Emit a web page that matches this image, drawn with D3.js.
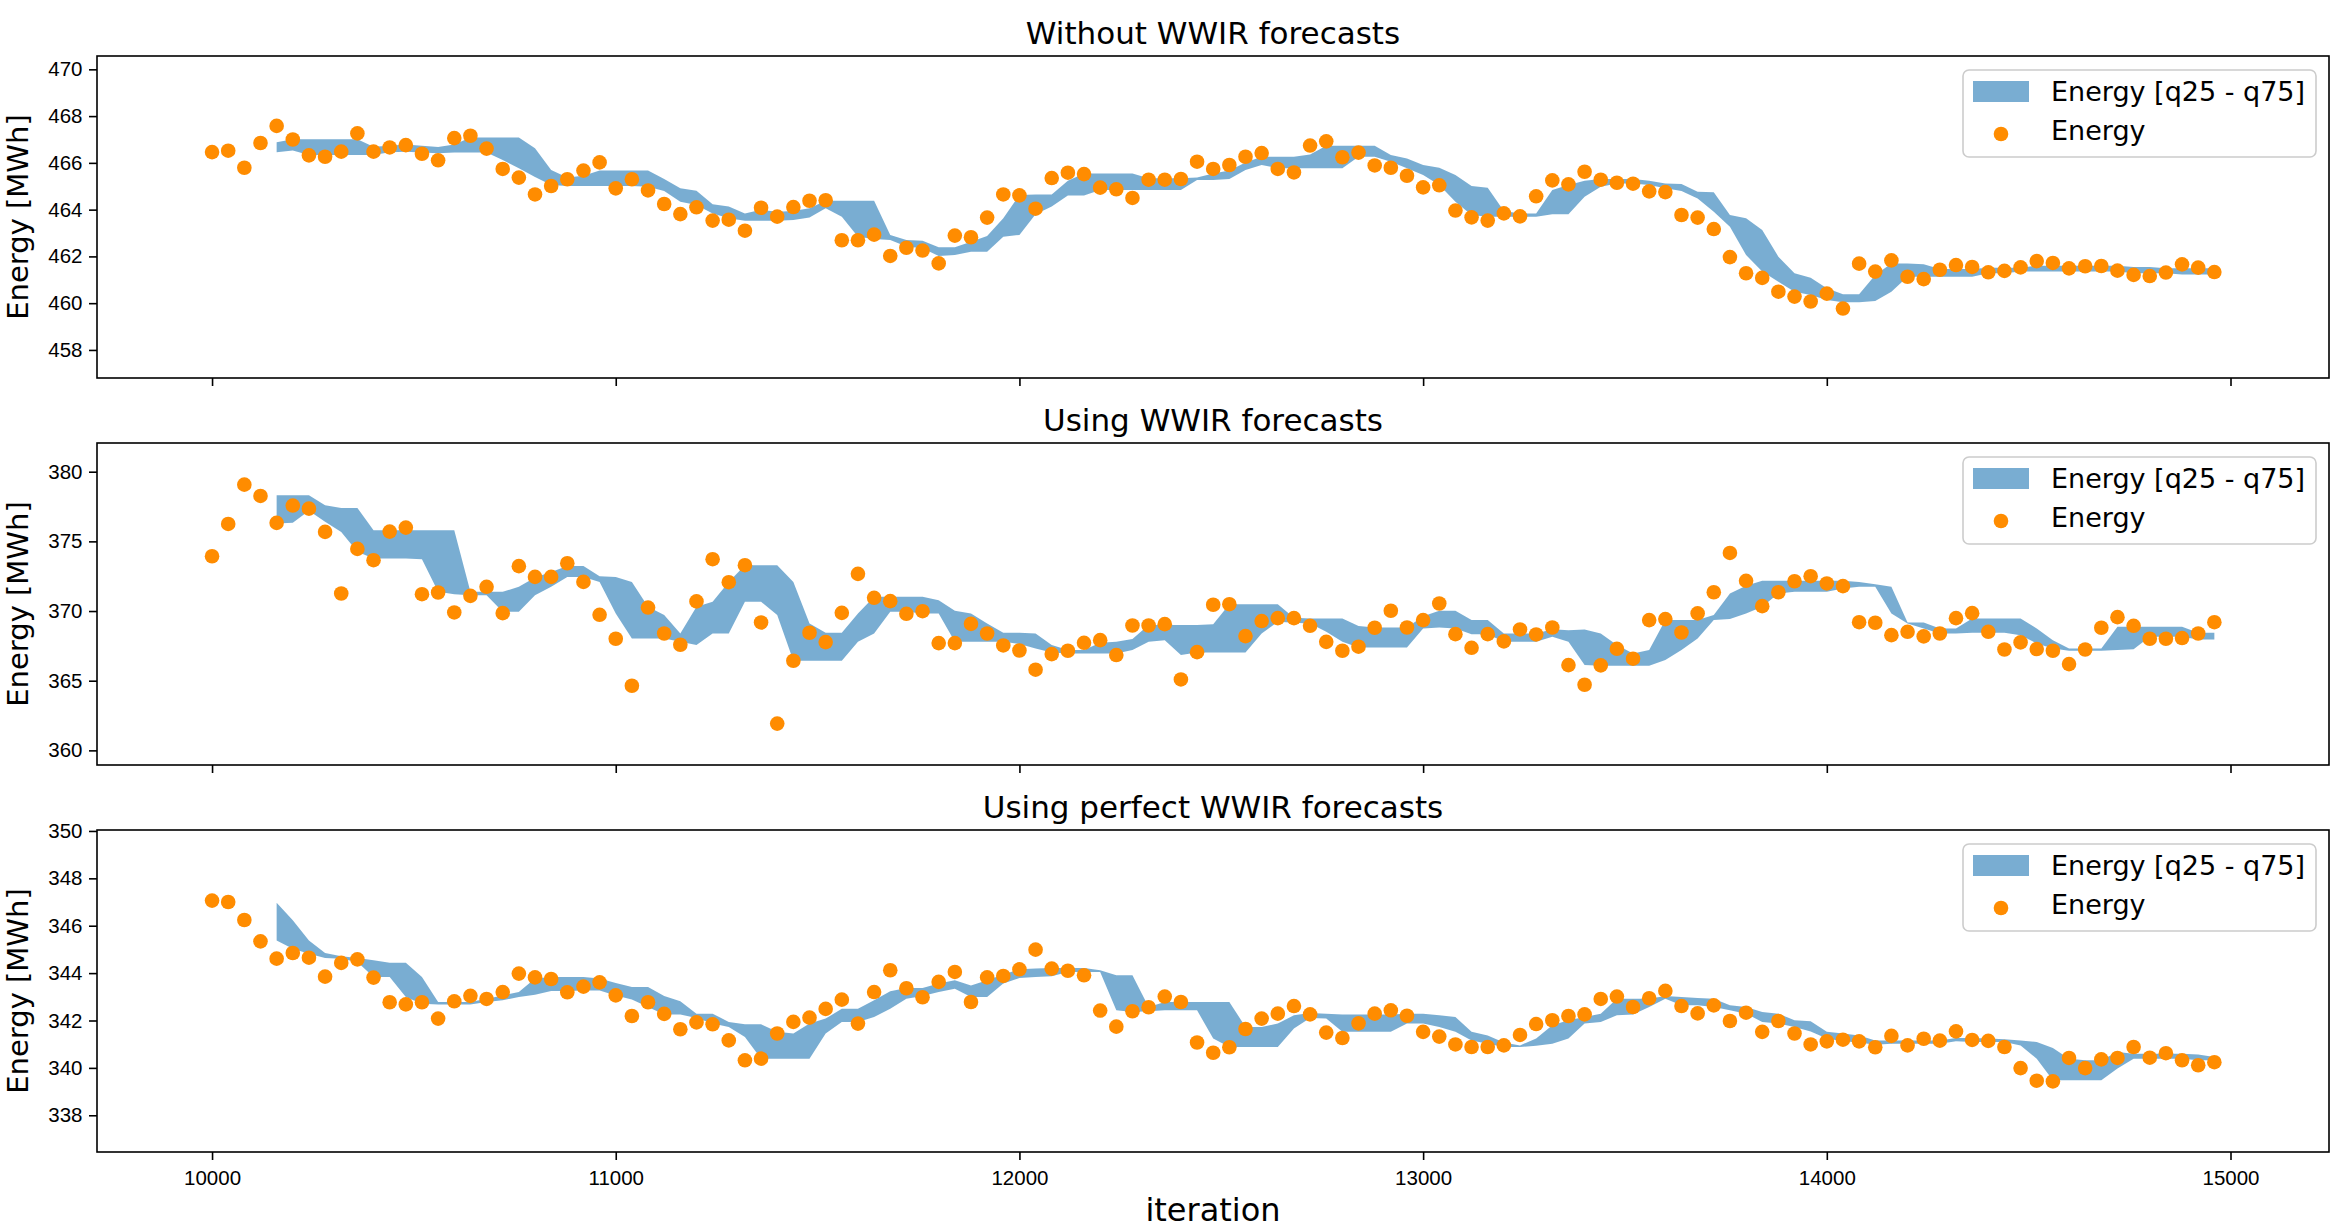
<!DOCTYPE html>
<html>
<head>
<meta charset="utf-8">
<script src="https://cdn.jsdelivr.net/npm/d3@7"></script>
<style>
    body { margin: 0; background: #fff; }
    svg { display: block; font-family: "DejaVu Sans", sans-serif; }
</style>
</head>
<body>
<svg class="chart"></svg>
<script>
// iterations: one sample every 40 iterations, band starts at the 5th sample
var iterStart = 10000, iterStep = 40, nSamples = 125, bandOffset = 4;

var titles = ["Without WWIR forecasts", "Using WWIR forecasts", "Using perfect WWIR forecasts"];

var yTicks1 = [458, 460, 462, 464, 466, 468, 470];
var yTicks2 = [360, 365, 370, 375, 380];
var yTicks3 = [338, 340, 342, 344, 346, 348, 350];
var xTicks = [10000, 11000, 12000, 13000, 14000, 15000];

// ---- Without WWIR forecasts
var energy1 = [
    466.46, 466.52, 465.79, 466.85, 467.58, 467.00, 466.32, 466.26, 466.48, 467.26,
    466.48, 466.66, 466.76, 466.39, 466.11, 467.06, 467.16, 466.61, 465.74, 465.37,
    464.65, 465.01, 465.30, 465.67, 466.02, 464.91, 465.30, 464.82, 464.24, 463.81,
    464.10, 463.53, 463.57, 463.10, 464.08, 463.70, 464.11, 464.38, 464.40, 462.69,
    462.69, 462.93, 462.02, 462.37, 462.25, 461.70, 462.89, 462.82, 463.66, 464.65,
    464.61, 464.04, 465.35, 465.58, 465.52, 464.94, 464.87, 464.50, 465.28, 465.28,
    465.31, 466.05, 465.74, 465.91, 466.26, 466.42, 465.74, 465.59, 466.74, 466.92,
    466.24, 466.44, 465.89, 465.79, 465.45, 464.95, 465.04, 463.96, 463.67, 463.53,
    463.84, 463.71, 464.57, 465.25, 465.08, 465.62, 465.28, 465.15, 465.11, 464.78,
    464.75, 463.77, 463.66, 463.17, 461.97, 461.28, 461.08, 460.49, 460.28, 460.07,
    460.41, 459.77, 461.69, 461.35, 461.83, 461.13, 461.03, 461.43, 461.63, 461.55,
    461.32, 461.38, 461.53, 461.80, 461.72, 461.49, 461.58, 461.59, 461.39, 461.21,
    461.16, 461.31, 461.66, 461.52, 461.33
];
var q75_1 = [
    466.88, 467.01, 467.01, 467.01, 467.01, 467.01, 466.69, 466.73, 466.79, 466.73,
    466.68, 466.79, 467.08, 467.08, 467.08, 467.08, 466.62, 465.70, 465.37, 465.45,
    465.67, 465.67, 465.67, 465.67, 465.31, 464.91, 464.81, 464.23, 464.13, 463.84,
    463.99, 463.91, 463.94, 464.06, 464.38, 464.38, 464.38, 464.38, 462.92, 462.70,
    462.67, 462.39, 462.39, 462.63, 462.87, 463.63, 464.63, 464.65, 464.65, 465.24,
    465.55, 465.55, 465.55, 465.55, 465.34, 465.34, 465.34, 465.37, 465.55, 465.67,
    466.02, 466.26, 466.26, 466.26, 466.36, 466.73, 466.73, 466.73, 466.73, 466.34,
    466.19, 465.91, 465.79, 465.48, 465.01, 464.94, 463.94, 463.84, 463.84, 464.84,
    465.05, 465.24, 465.31, 465.31, 465.31, 465.24, 465.12, 465.10, 464.77, 464.74,
    463.77, 463.63, 463.13, 461.99, 461.28, 461.09, 460.64, 460.38, 460.38, 461.21,
    461.70, 461.70, 461.66, 461.46, 461.46, 461.46, 461.52, 461.52, 461.52, 461.60,
    461.60, 461.60, 461.60, 461.60, 461.60, 461.55, 461.55, 461.49, 461.49, 461.49, 461.49
];
var q25_1 = [
    466.45, 466.53, 466.34, 466.34, 466.34, 466.34, 466.34, 466.45, 466.48, 466.44,
    466.41, 466.44, 466.44, 466.44, 466.12, 465.77, 465.40, 465.05, 465.01, 465.01,
    465.01, 465.01, 465.01, 464.98, 464.80, 464.34, 464.20, 463.84, 463.63, 463.53,
    463.53, 463.53, 463.56, 463.66, 464.06, 463.70, 462.84, 462.74, 462.70, 462.42,
    462.35, 462.02, 462.06, 462.20, 462.20, 462.84, 462.92, 463.80, 464.13, 464.60,
    464.60, 464.84, 464.84, 464.84, 464.84, 464.84, 464.84, 465.27, 465.27, 465.31,
    465.70, 465.91, 465.77, 465.77, 465.77, 465.77, 465.77, 466.26, 466.26, 466.05,
    465.77, 465.48, 465.05, 464.34, 463.77, 463.70, 463.70, 463.70, 463.70, 463.80,
    463.80, 464.55, 464.98, 465.12, 465.12, 465.05, 464.91, 464.80, 464.48, 463.91,
    463.27, 462.06, 461.35, 460.92, 460.49, 460.35, 460.14, 460.04, 460.04, 460.09,
    460.49, 461.13, 461.13, 461.13, 461.13, 461.13, 461.28, 461.28, 461.35, 461.35,
    461.35, 461.35, 461.35, 461.35, 461.35, 461.28, 461.28, 461.28, 461.23, 461.23, 461.23
];

// ---- Using WWIR forecasts
var energy2 = [
    373.93, 376.25, 379.07, 378.26, 376.33, 377.57, 377.35, 375.68, 371.26, 374.46,
    373.65, 375.70, 375.99, 371.21, 371.33, 369.90, 371.09, 371.74, 369.85, 373.22,
    372.45, 372.45, 373.43, 372.09, 369.73, 368.01, 364.64, 370.25, 368.39, 367.58,
    370.69, 373.72, 372.07, 373.29, 369.18, 361.92, 366.43, 368.44, 367.77, 369.87,
    372.67, 370.95, 370.71, 369.80, 369.99, 367.70, 367.70, 369.08, 368.39, 367.53,
    367.17, 365.79, 366.91, 367.15, 367.72, 367.91, 366.84, 368.96, 368.96, 369.06,
    365.09, 367.05, 370.45, 370.49, 368.20, 369.28, 369.49, 369.49, 368.94, 367.79,
    367.15, 367.44, 368.80, 370.02, 368.82, 369.35, 370.54, 368.34, 367.36, 368.34,
    367.82, 368.68, 368.32, 368.82, 366.12, 364.71, 366.10, 367.29, 366.58, 369.35,
    369.42, 368.46, 369.83, 371.35, 374.17, 372.17, 370.35, 371.35, 372.14, 372.50,
    371.98, 371.79, 369.20, 369.16, 368.27, 368.51, 368.18, 368.39, 369.49, 369.85,
    368.51, 367.24, 367.75, 367.27, 367.15, 366.19, 367.24, 368.80, 369.56, 368.94,
    368.01, 368.01, 368.06, 368.39, 369.20
];
var q75_2 = [
    378.31, 378.31, 378.31, 377.59, 377.40, 377.40, 375.80, 375.80, 375.80, 375.80,
    375.80, 375.80, 371.38, 371.38, 371.38, 371.74, 372.41, 372.81, 373.24, 373.24,
    372.50, 372.45, 372.09, 370.30, 369.71, 368.39, 370.30, 370.66, 372.09, 373.29,
    373.29, 373.29, 372.09, 369.11, 368.44, 368.44, 369.83, 371.02, 371.02, 371.02,
    371.02, 370.78, 370.02, 369.83, 369.11, 368.44, 368.44, 368.39, 367.56, 367.20,
    367.20, 367.72, 367.79, 367.99, 368.99, 368.99, 368.99, 368.99, 369.06, 370.49,
    370.49, 370.49, 370.49, 369.52, 369.47, 369.47, 369.47, 368.92, 368.82, 368.82,
    368.82, 369.63, 370.02, 370.02, 369.35, 369.35, 368.39, 368.39, 368.39, 368.70,
    368.63, 368.68, 368.39, 367.56, 366.96, 367.20, 369.35, 369.35, 369.35, 369.71,
    371.26, 371.81, 372.17, 372.17, 372.17, 372.17, 372.17, 372.17, 372.09, 371.93,
    371.74, 369.18, 369.18, 368.75, 368.75, 369.47, 369.47, 369.47, 369.47, 368.75,
    367.91, 367.32, 367.32, 367.32, 368.87, 368.87, 368.87, 368.87, 368.87, 368.44, 368.44
];
var q25_2 = [
    376.28, 376.33, 377.19, 376.40, 375.68, 374.25, 373.77, 373.77, 373.77, 373.72,
    371.38, 371.21, 371.14, 371.14, 369.94, 369.94, 371.14, 371.74, 372.45, 372.45,
    372.09, 369.83, 368.03, 368.03, 368.03, 367.79, 367.56, 368.39, 368.39, 370.66,
    370.66, 369.71, 366.43, 366.43, 366.43, 366.43, 367.79, 368.39, 369.94, 369.94,
    369.83, 369.83, 367.79, 367.79, 367.79, 367.79, 367.63, 367.32, 367.03, 366.96,
    366.96, 366.96, 366.96, 367.20, 367.79, 367.91, 366.84, 367.03, 367.03, 367.03,
    367.03, 368.39, 369.23, 369.16, 369.11, 368.51, 367.79, 367.39, 367.39, 367.39,
    367.39, 368.75, 368.82, 368.75, 368.34, 368.34, 367.79, 367.79, 367.79, 368.15,
    367.79, 366.12, 366.07, 366.07, 366.07, 366.07, 366.48, 367.20, 368.03, 369.35,
    369.42, 369.83, 370.30, 371.26, 371.38, 371.38, 371.38, 371.62, 371.74, 371.74,
    369.83, 369.11, 368.75, 368.39, 368.39, 368.44, 368.44, 368.44, 368.27, 367.67,
    367.32, 367.15, 367.15, 367.15, 367.20, 367.25, 368.15, 368.15, 368.15, 367.96, 367.96
];

// ---- Using perfect WWIR forecasts
var energy3 = [
    347.06, 347.00, 346.24, 345.34, 344.61, 344.85, 344.65, 343.85, 344.43, 344.58,
    343.81, 342.77, 342.68, 342.77, 342.08, 342.81, 343.04, 342.91, 343.20, 343.98,
    343.82, 343.75, 343.19, 343.43, 343.61, 343.06, 342.19, 342.77, 342.28, 341.63,
    341.92, 341.84, 341.16, 340.32, 340.39, 341.45, 341.94, 342.12, 342.49, 342.88,
    341.87, 343.20, 344.12, 343.36, 342.98, 343.63, 344.05, 342.78, 343.82, 343.88,
    344.16, 344.99, 344.19, 344.10, 343.91, 342.42, 341.74, 342.39, 342.56, 343.01,
    342.78, 341.07, 340.64, 340.87, 341.64, 342.08, 342.29, 342.61, 342.26, 341.49,
    341.26, 341.88, 342.29, 342.43, 342.20, 341.52, 341.32, 340.99, 340.88, 340.88,
    340.95, 341.39, 341.85, 342.01, 342.19, 342.26, 342.91, 343.01, 342.57, 342.94,
    343.25, 342.61, 342.30, 342.64, 341.98, 342.33, 341.52, 341.98, 341.45, 340.99,
    341.12, 341.19, 341.12, 340.87, 341.35, 340.95, 341.23, 341.15, 341.54, 341.18,
    341.14, 340.88, 339.99, 339.46, 339.43, 340.42, 339.99, 340.36, 340.42, 340.88,
    340.43, 340.62, 340.32, 340.11, 340.24
];
var q75_3 = [
    346.97, 346.23, 345.38, 344.85, 344.71, 344.64, 344.54, 344.44, 344.44, 343.84,
    342.78, 342.78, 342.78, 342.92, 343.06, 343.20, 343.77, 343.84, 343.84, 343.84,
    343.77, 343.58, 343.41, 343.41, 343.03, 342.81, 342.29, 342.29, 341.94, 341.84,
    341.84, 341.52, 341.45, 341.87, 342.08, 342.50, 342.50, 342.85, 343.23, 343.37,
    343.37, 343.56, 343.70, 343.48, 343.70, 343.94, 344.16, 344.19, 344.22, 344.22,
    344.22, 344.12, 343.91, 343.91, 342.57, 342.78, 342.78, 342.78, 342.78, 342.78,
    341.73, 341.73, 341.87, 342.22, 342.32, 342.29, 342.25, 342.25, 342.25, 342.25,
    342.29, 342.29, 342.22, 342.15, 341.52, 341.37, 341.07, 340.95, 341.24, 341.80,
    342.01, 342.15, 342.29, 342.92, 342.92, 342.92, 343.03, 342.99, 342.95, 342.92,
    342.64, 342.57, 342.36, 342.29, 342.01, 341.97, 341.52, 341.45, 341.37, 341.16,
    341.16, 341.16, 341.16, 341.16, 341.26, 341.26, 341.24, 341.21, 341.16, 341.09,
    340.84, 340.39, 340.32, 340.32, 340.67, 340.60, 340.60, 340.60, 340.60, 340.56, 340.46
];
var q25_3 = [
    345.38, 345.03, 344.82, 344.64, 344.61, 344.47, 343.84, 343.84, 342.99, 342.71,
    342.67, 342.67, 342.67, 342.78, 342.85, 342.99, 343.09, 343.25, 343.25, 343.27,
    343.27, 343.06, 342.89, 342.57, 342.25, 342.25, 342.11, 341.87, 341.73, 341.30,
    340.39, 340.39, 340.39, 340.39, 341.45, 341.94, 341.94, 342.15, 342.50, 342.92,
    343.03, 343.20, 343.34, 342.99, 342.99, 343.56, 343.79, 343.84, 343.87, 344.05,
    344.05, 344.05, 342.43, 342.36, 342.39, 342.43, 342.43, 342.43, 341.24, 340.88,
    340.88, 340.88, 340.88, 341.66, 342.11, 342.08, 341.52, 341.52, 341.52, 341.52,
    341.87, 341.87, 341.73, 341.52, 341.16, 341.02, 340.88, 340.88, 340.93, 341.02,
    341.24, 341.87, 341.94, 342.22, 342.25, 342.57, 342.92, 342.64, 342.64, 342.57,
    342.43, 342.29, 341.94, 341.87, 341.73, 341.54, 341.24, 341.12, 341.07, 340.98,
    341.02, 341.02, 341.02, 341.02, 341.12, 341.09, 341.09, 341.09, 340.95, 340.39,
    339.48, 339.48, 339.48, 339.48, 339.97, 340.39, 340.39, 340.39, 340.39, 340.32, 340.32
];

function show() {

    'use strict';

    var W = 2339, H = 1228;
    var axLeft = 97, axRight = 2329, panelH = 322;
    var panelTops = [56, 443, 830];

    var bandColor = "#1f77b4", dotColor = "#ff8c00";

    var iterations = d3.range(nSamples).map(function(i) { return iterStart + i * iterStep; });

    var panels = [
        {title: titles[0], energy: energy1, lo: q25_1, hi: q75_1, ticks: yTicks1, domain: [456.8, 470.57]},
        {title: titles[1], energy: energy2, lo: q25_2, hi: q75_2, ticks: yTicks2, domain: [358.95, 382.06]},
        {title: titles[2], energy: energy3, lo: q25_3, hi: q75_3, ticks: yTicks3, domain: [336.45, 350.04]}
    ];

    var svg = d3.select(".chart")
        .attr("width", W)
        .attr("height", H);

    svg.append("rect").attr("width", W).attr("height", H).attr("fill", "#fff");

    var x = d3.scaleLinear().domain([9715, 15244]).range([axLeft, axRight]);

    panels.forEach(function(p, k) {

        var top = panelTops[k];
        var y = d3.scaleLinear().domain(p.domain).range([top + panelH, top]);
        var g = svg.append("g");

        // quantile band
        var band = p.lo.map(function(lo, i) {
            return {it: iterations[i + bandOffset], lo: lo, hi: p.hi[i]};
        });
        var area = d3.area()
            .x(function(d) { return x(d.it); })
            .y0(function(d) { return y(d.lo); })
            .y1(function(d) { return y(d.hi); });

        g.append("path")
            .datum(band)
            .attr("d", area)
            .attr("fill", bandColor)
            .attr("fill-opacity", 0.6);

        // energy points
        g.selectAll(".dot")
            .data(p.energy)
            .enter().append("circle")
            .attr("class", "dot")
            .attr("cx", function(d, i) { return x(iterations[i]); })
            .attr("cy", function(d) { return y(d); })
            .attr("r", 7.3)
            .attr("fill", dotColor);

        // axes
        var yAxis = d3.axisLeft(y).tickValues(p.ticks).tickSize(8).tickPadding(6.5).tickSizeOuter(0);
        var gy = g.append("g").attr("transform", "translate(" + axLeft + ",0)").call(yAxis);

        var xAxis = d3.axisBottom(x).tickValues(xTicks).tickSize(8).tickPadding(10).tickSizeOuter(0)
            .tickFormat(k === 2 ? d3.format("d") : function() { return ""; });
        var gx = g.append("g").attr("transform", "translate(0," + (top + panelH) + ")").call(xAxis);

        [gx, gy].forEach(function(a) {
            a.select(".domain").remove();
            a.selectAll("line").attr("stroke", "#000").attr("stroke-width", 1.6);
            a.selectAll("text").attr("fill", "#000").style("font-size", "20.5px");
        });

        g.append("rect")
            .attr("x", axLeft).attr("y", top)
            .attr("width", axRight - axLeft).attr("height", panelH)
            .attr("fill", "none").attr("stroke", "#000").attr("stroke-width", 1.6);

        g.append("text")
            .attr("x", (axLeft + axRight) / 2)
            .attr("y", top - 12)
            .attr("text-anchor", "middle")
            .style("font-size", "31px")
            .text(p.title);

        g.append("text")
            .attr("transform", "translate(28," + (top + panelH / 2) + ") rotate(-90)")
            .attr("text-anchor", "middle")
            .style("font-size", "29px")
            .text("Energy [MWh]");

        // legend
        var lg = g.append("g").attr("transform", "translate(1963," + (top + 14) + ")");
        lg.append("rect")
            .attr("width", 353).attr("height", 87).attr("rx", 6)
            .attr("fill", "#fff").attr("fill-opacity", 0.8)
            .attr("stroke", "#cccccc").attr("stroke-width", 1.6);
        lg.append("rect")
            .attr("x", 10).attr("y", 11).attr("width", 56).attr("height", 21)
            .attr("fill", bandColor).attr("fill-opacity", 0.6);
        lg.append("text").attr("x", 88).attr("y", 31).style("font-size", "27px").text("Energy [q25 - q75]");
        lg.append("circle").attr("cx", 38).attr("cy", 64).attr("r", 7.3).attr("fill", dotColor);
        lg.append("text").attr("x", 88).attr("y", 70).style("font-size", "27px").text("Energy");
    });

    svg.append("text")
        .attr("x", (axLeft + axRight) / 2)
        .attr("y", 1221)
        .attr("text-anchor", "middle")
        .style("font-size", "32px")
        .text("iteration");
}

show();
</script>
</body>
</html>
